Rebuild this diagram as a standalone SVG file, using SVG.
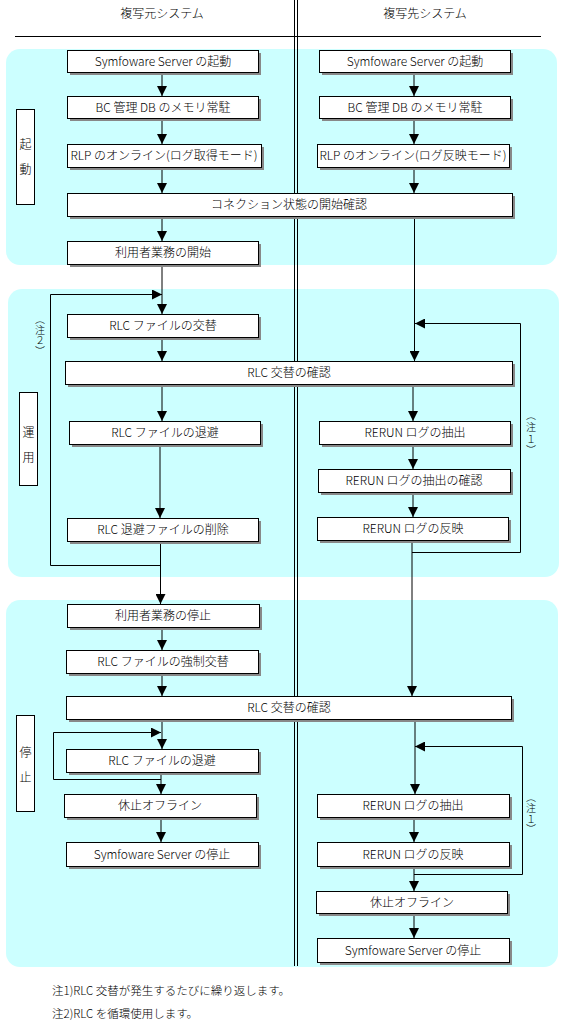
<svg xmlns="http://www.w3.org/2000/svg" width="573" height="1026" viewBox="0 0 573 1026">
<style>
.bg{fill:#CCFFFF;stroke:none}
.box{fill:#FFFFFF;stroke:#000000;stroke-width:1}
.sh{fill:#888888;stroke:none}
.lbl{fill:#FFFFFF;stroke:#000000;stroke-width:1}
.t{font-family:"Noto Sans CJK JP","Noto Sans",sans-serif;font-size:12px;font-weight:300;fill:#000000;text-anchor:middle}
.ft{font-family:"Noto Sans CJK JP","Noto Sans",sans-serif;font-size:11.5px;font-weight:300;fill:#000000}
.vt{font-family:"Noto Sans CJK JP",sans-serif;font-size:10px;font-weight:300;fill:#000000;text-anchor:middle}
.ln{fill:none;stroke:#000000;stroke-width:1}
.ar{fill:none;stroke:#000000;stroke-width:1;marker-end:url(#ah)}
</style>
<defs>
<marker id="ah" markerUnits="userSpaceOnUse" markerWidth="10" markerHeight="10" viewBox="0 0 10 10" refX="10" refY="5" orient="auto">
<path d="M0,0 L10,5 L0,10 Z" fill="#000000"/>
</marker>
</defs>

<g id="backgrounds">
<rect class="bg" x="6" y="49" width="551" height="216" rx="14"/>
<rect class="bg" x="8" y="289" width="551" height="288" rx="14"/>
<rect class="bg" x="6" y="600" width="552" height="367" rx="14"/>
</g>

<g id="header">
<text class="t" x="162" y="18">複写元システム</text>
<text class="t" x="425" y="18">複写先システム</text>
<line class="ln" x1="15" y1="36.5" x2="541" y2="36.5"/>
<line class="ln" x1="294.5" y1="0" x2="294.5" y2="966"/>
<line class="ln" x1="297.5" y1="0" x2="297.5" y2="966"/>
</g>

<g id="phase-labels">
<g id="label-start"><rect class="lbl" x="16.5" y="109.5" width="18" height="95"/><text class="t" x="25.5" y="149">起</text><text class="t" x="25.5" y="174">動</text></g>
<g id="label-run"><rect class="lbl" x="19.5" y="392.5" width="18" height="93"/><text class="t" x="28.5" y="437">運</text><text class="t" x="28.5" y="462">用</text></g>
<g id="label-stop"><rect class="lbl" x="16.5" y="715.5" width="18" height="96"/><text class="t" x="25.5" y="757">停</text><text class="t" x="25.5" y="782">止</text></g>
</g>

<g id="connectors">
<line class="ar" x1="162" y1="72" x2="162" y2="96"/>
<line class="ar" x1="162" y1="118" x2="162" y2="144"/>
<line class="ar" x1="162" y1="167" x2="162" y2="193"/>
<line class="ar" x1="162" y1="216" x2="162" y2="241"/>
<line class="ar" x1="414" y1="72" x2="414" y2="96"/>
<line class="ar" x1="414" y1="118" x2="414" y2="144"/>
<line class="ar" x1="414" y1="167" x2="414" y2="193"/>
<line class="ar" x1="414.5" y1="216" x2="414.5" y2="361"/>
<line class="ar" x1="162" y1="264" x2="162" y2="314"/>
<line class="ar" x1="162" y1="337" x2="162" y2="361"/>
<line class="ar" x1="162" y1="384" x2="162" y2="421"/>
<line class="ar" x1="160" y1="445" x2="160" y2="518"/>
<line class="ar" x1="160.5" y1="541" x2="160.5" y2="604"/>
<polyline class="ar" points="160.5,565.5 50.5,565.5 50.5,294.5 162,294.5"/>
<line class="ar" x1="413" y1="384" x2="413" y2="421"/>
<line class="ar" x1="413" y1="445" x2="413" y2="469"/>
<line class="ar" x1="413" y1="492" x2="413" y2="517"/>
<line class="ar" x1="412" y1="540" x2="412" y2="696"/>
<polyline class="ar" points="412,552.5 520.5,552.5 520.5,323.5 415,323.5"/>
<line class="ar" x1="162" y1="627" x2="162" y2="650"/>
<line class="ar" x1="162" y1="673" x2="162" y2="696"/>
<line class="ar" x1="162" y1="719" x2="162" y2="749"/>
<line class="ar" x1="161" y1="772" x2="161" y2="794"/>
<line class="ar" x1="161" y1="817" x2="161" y2="842"/>
<polyline class="ar" points="161,779.5 53.5,779.5 53.5,732.5 161,732.5"/>
<line class="ar" x1="415" y1="719" x2="415" y2="794"/>
<line class="ar" x1="414" y1="817" x2="414" y2="842"/>
<line class="ar" x1="414" y1="866" x2="414" y2="891"/>
<line class="ar" x1="414" y1="913" x2="414" y2="938"/>
<polyline class="ar" points="414,874.5 522.5,874.5 522.5,746.5 415,746.5"/>
</g>

<g id="notes">
<text class="vt"><tspan x="40" y="323">︵</tspan><tspan x="40" y="334">注</tspan><tspan x="40" y="344">２</tspan><tspan x="40" y="355">︶</tspan></text>
<text class="vt"><tspan x="531" y="419">︵</tspan><tspan x="531" y="431">注</tspan><tspan x="531" y="443">１</tspan><tspan x="531" y="454">︶</tspan></text>
<text class="vt"><tspan x="531" y="801">︵</tspan><tspan x="531" y="812">注</tspan><tspan x="531" y="823">１</tspan><tspan x="531" y="833">︶</tspan></text>
</g>

<g id="n-src-start"><rect class="sh" x="70" y="53" width="191" height="22"/><rect class="box" x="67.5" y="50.5" width="191" height="22"/><text class="t" x="163" y="66">Symfoware Server の起動</text></g>
<g id="n-src-bcdb"><rect class="sh" x="70" y="99" width="191" height="22"/><rect class="box" x="67.5" y="96.5" width="191" height="22"/><text class="t" x="163" y="112">BC 管理 DB のメモリ常駐</text></g>
<g id="n-src-rlp"><rect class="sh" x="70" y="147" width="194" height="23"/><rect class="box" x="67.5" y="144.5" width="194" height="23"/><text class="t" x="164" y="160">RLP のオンライン(ログ取得モード)</text></g>
<g id="n-dst-start"><rect class="sh" x="322" y="53" width="191" height="22"/><rect class="box" x="319.5" y="50.5" width="191" height="22"/><text class="t" x="415" y="66">Symfoware Server の起動</text></g>
<g id="n-dst-bcdb"><rect class="sh" x="322" y="99" width="191" height="22"/><rect class="box" x="319.5" y="96.5" width="191" height="22"/><text class="t" x="415" y="112">BC 管理 DB のメモリ常駐</text></g>
<g id="n-dst-rlp"><rect class="sh" x="320" y="147" width="192" height="23"/><rect class="box" x="317.5" y="144.5" width="192" height="23"/><text class="t" x="413" y="160">RLP のオンライン(ログ反映モード)</text></g>
<g id="n-conn"><rect class="sh" x="70" y="196" width="445" height="23"/><rect class="box" x="67.5" y="193.5" width="445" height="23"/><text class="t" x="289" y="209">コネクション状態の開始確認</text></g>
<g id="n-user-start"><rect class="sh" x="70" y="244" width="191" height="23"/><rect class="box" x="67.5" y="241.5" width="191" height="23"/><text class="t" x="163" y="257">利用者業務の開始</text></g>

<g id="n-rlc-switch"><rect class="sh" x="70" y="317" width="191" height="23"/><rect class="box" x="67.5" y="314.5" width="191" height="23"/><text class="t" x="163" y="330">RLC ファイルの交替</text></g>
<g id="n-rlc-check1"><rect class="sh" x="68" y="364" width="447" height="23"/><rect class="box" x="65.5" y="361.5" width="447" height="23"/><text class="t" x="289" y="377">RLC 交替の確認</text></g>
<g id="n-rlc-save1"><rect class="sh" x="72" y="424" width="191" height="23"/><rect class="box" x="69.5" y="421.5" width="191" height="23"/><text class="t" x="165" y="437">RLC ファイルの退避</text></g>
<g id="n-rlc-del"><rect class="sh" x="70" y="521" width="191" height="23"/><rect class="box" x="67.5" y="518.5" width="191" height="23"/><text class="t" x="163" y="534">RLC 退避ファイルの削除</text></g>
<g id="n-rerun-ext1"><rect class="sh" x="322" y="424" width="191" height="23"/><rect class="box" x="319.5" y="421.5" width="191" height="23"/><text class="t" x="415" y="437">RERUN ログの抽出</text></g>
<g id="n-rerun-chk"><rect class="sh" x="321" y="472" width="192" height="23"/><rect class="box" x="318.5" y="469.5" width="192" height="23"/><text class="t" x="414" y="485">RERUN ログの抽出の確認</text></g>
<g id="n-rerun-apply1"><rect class="sh" x="320" y="520" width="191" height="23"/><rect class="box" x="317.5" y="517.5" width="191" height="23"/><text class="t" x="413" y="533">RERUN ログの反映</text></g>

<g id="n-user-stop"><rect class="sh" x="70" y="607" width="192" height="23"/><rect class="box" x="67.5" y="604.5" width="192" height="23"/><text class="t" x="163" y="620">利用者業務の停止</text></g>
<g id="n-rlc-force"><rect class="sh" x="69" y="653" width="192" height="23"/><rect class="box" x="66.5" y="650.5" width="192" height="23"/><text class="t" x="163" y="666">RLC ファイルの強制交替</text></g>
<g id="n-rlc-check2"><rect class="sh" x="69" y="699" width="445" height="23"/><rect class="box" x="66.5" y="696.5" width="445" height="23"/><text class="t" x="289" y="712">RLC 交替の確認</text></g>
<g id="n-rlc-save2"><rect class="sh" x="69" y="752" width="192" height="23"/><rect class="box" x="66.5" y="749.5" width="192" height="23"/><text class="t" x="162" y="765">RLC ファイルの退避</text></g>
<g id="n-src-offline"><rect class="sh" x="67" y="797" width="192" height="23"/><rect class="box" x="64.5" y="794.5" width="192" height="23"/><text class="t" x="160" y="810">休止オフライン</text></g>
<g id="n-src-stop"><rect class="sh" x="69" y="845" width="192" height="24"/><rect class="box" x="66.5" y="842.5" width="192" height="24"/><text class="t" x="162" y="859">Symfoware Server の停止</text></g>
<g id="n-rerun-ext2"><rect class="sh" x="320" y="797" width="192" height="23"/><rect class="box" x="317.5" y="794.5" width="192" height="23"/><text class="t" x="413" y="810">RERUN ログの抽出</text></g>
<g id="n-rerun-apply2"><rect class="sh" x="320" y="845" width="192" height="24"/><rect class="box" x="317.5" y="842.5" width="192" height="24"/><text class="t" x="413" y="859">RERUN ログの反映</text></g>
<g id="n-dst-offline"><rect class="sh" x="319" y="894" width="191" height="22"/><rect class="box" x="316.5" y="891.5" width="191" height="22"/><text class="t" x="412" y="907">休止オフライン</text></g>
<g id="n-dst-stop"><rect class="sh" x="320" y="941" width="192" height="24"/><rect class="box" x="317.5" y="938.5" width="192" height="24"/><text class="t" x="413" y="955">Symfoware Server の停止</text></g>

<g id="footnotes">
<text class="ft" x="52" y="995">注1)RLC 交替が発生するたびに繰り返します。</text>
<text class="ft" x="52" y="1018">注2)RLC を循環使用します。</text>
</g>
</svg>
